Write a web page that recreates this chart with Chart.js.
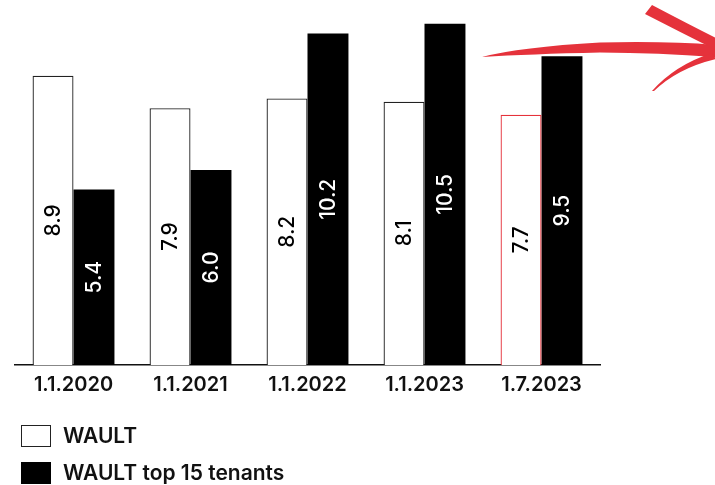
<!DOCTYPE html>
<html>
<head>
<meta charset="utf-8">
<script src="https://cdn.jsdelivr.net/npm/chart.js@4"></script>
<style>
  html, body { margin: 0; padding: 0; background: #fff; }
  #wrap { position: relative; width: 715px; height: 485px; overflow: hidden; }
  #chart { position: absolute; left: 0; top: 0; }
  .legend { position: absolute; left: 21px; font-family: Inter, "Liberation Sans", sans-serif;
            font-weight: 600; font-size: 21px; color: #111; display: flex; align-items: center; }
  .legend .box { width: 30px; height: 22px; box-sizing: border-box; margin-right: 12px; }
</style>
</head>
<body>
<div id="wrap">
  <canvas id="chart" width="715" height="485"></canvas>
  <div class="legend" id="lg1" style="top:423px"><span class="box" style="border:1.3px solid #222;background:#fff"></span><span>WAULT</span></div>
  <div class="legend" id="lg2" style="top:460px"><span class="box" style="background:#000"></span><span>WAULT top 15 tenants</span></div>
</div>
<script>
// Reporting dates on the x axis
const categories = ['1.1.2020', '1.1.2021', '1.1.2022', '1.1.2023', '1.7.2023'];
// Weighted average unexpired lease term, years
const waultValues = [8.9, 7.9, 8.2, 8.1, 7.7];
const top15Values = [5.4, 6.0, 10.2, 10.5, 9.5];
const seriesNames = ['WAULT', 'WAULT top 15 tenants'];

const RED = 'rgb(229, 50, 59)';

// Value written vertically in the middle of every bar
const barValueLabels = {
  id: 'barValueLabels',
  afterDatasetsDraw(chart) {
    const ctx = chart.ctx;
    chart.data.datasets.forEach((ds, di) => {
      const meta = chart.getDatasetMeta(di);
      meta.data.forEach((bar, i) => {
        const v = ds.data[i];
        const cy = (bar.y + bar.base) / 2;
        ctx.save();
        ctx.translate(bar.x, cy);
        ctx.rotate(-Math.PI / 2);
        ctx.font = '500 21px Inter, "Liberation Sans", sans-serif';
        ctx.fillStyle = di === 0 ? '#000' : '#fff';
        ctx.textAlign = 'center';
        ctx.textBaseline = 'middle';
        ctx.fillText(v.toFixed(1), 0, 1);
        ctx.restore();
      });
    });
  }
};

// Hand-drawn style red arrow in the upper right corner
const trendArrow = {
  id: 'trendArrow',
  afterDraw(chart) {
    const ctx = chart.ctx;
    ctx.save();
    ctx.fillStyle = RED;
    // shaft
    ctx.beginPath();
    ctx.moveTo(482, 57);
    ctx.quadraticCurveTo(520, 47, 600, 42.5);
    ctx.quadraticCurveTo(670, 41, 716, 45);
    ctx.lineTo(716, 57);
    ctx.quadraticCurveTo(660, 53, 600, 52.5);
    ctx.quadraticCurveTo(530, 54, 482, 57);
    ctx.closePath();
    ctx.fill();
    // upper barb
    ctx.beginPath();
    ctx.moveTo(652, 5);
    ctx.quadraticCurveTo(690, 25, 716, 38);
    ctx.lineTo(716, 50);
    ctx.quadraticCurveTo(680, 32, 645, 14);
    ctx.closePath();
    ctx.fill();
    // lower barb
    ctx.beginPath();
    ctx.moveTo(652, 91);
    ctx.quadraticCurveTo(675, 65, 712, 53);
    ctx.lineTo(716, 59);
    ctx.quadraticCurveTo(678, 68, 654, 91);
    ctx.closePath();
    ctx.fill();
    ctx.restore();
  }
};

new Chart(document.getElementById('chart'), {
  type: 'bar',
  data: {
    labels: categories,
    datasets: [
      {
        label: seriesNames[0],
        data: waultValues,
        backgroundColor: '#fff',
        borderColor: ['#222', '#222', '#222', '#222', RED],
        borderWidth: 1.3,
        borderSkipped: 'bottom'
      },
      {
        label: seriesNames[1],
        data: top15Values,
        backgroundColor: '#000',
        borderWidth: 0
      }
    ]
  },
  options: {
    responsive: false,
    animation: false,
    events: [],
    layout: { padding: { left: 15, right: 115, top: 7.5, bottom: 80 } },
    categoryPercentage: 0.7,
    barPercentage: 1.0,
    plugins: {
      legend: { display: false },
      tooltip: { enabled: false }
    },
    scales: {
      x: {
        grid: { display: false, drawTicks: false },
        border: { display: true, color: '#111', width: 1.5 },
        ticks: {
          color: '#111',
          padding: 8,
          font: { family: 'Inter, "Liberation Sans", sans-serif', size: 20, weight: '600' }
        }
      },
      y: {
        display: false,
        min: 0,
        max: 11
      }
    }
  },
  plugins: [barValueLabels, trendArrow]
});
</script>
</body>
</html>
